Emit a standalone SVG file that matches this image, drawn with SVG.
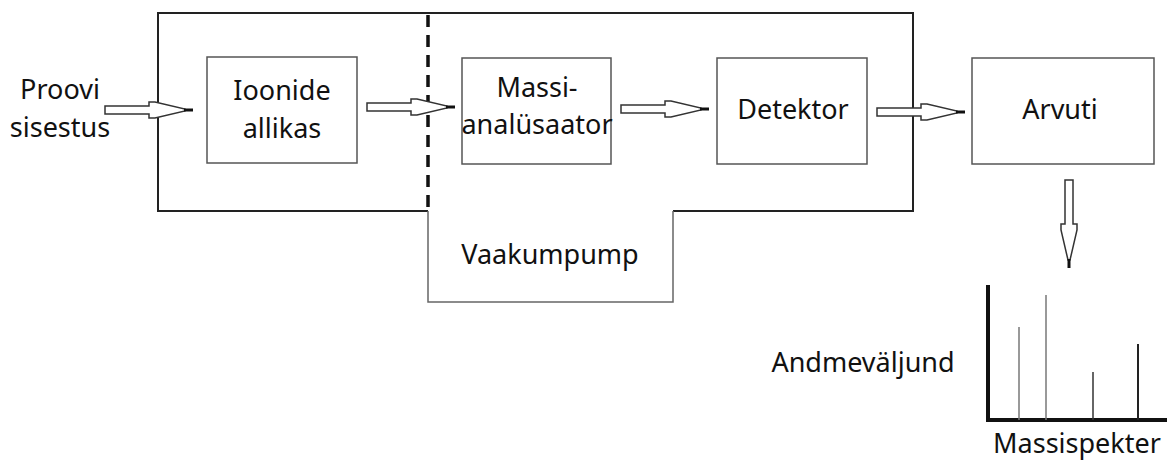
<svg xmlns="http://www.w3.org/2000/svg" width="1167" height="461" viewBox="0 0 1167 461">
  <style>
    .lbl { font-family: "Noto Sans", "Open Sans", sans-serif; font-size: 27px; fill: #111; text-anchor: middle; }
    .box { fill: none; stroke: #555; stroke-width: 1.5; }
    .frame { fill: none; stroke: #222; stroke-width: 2; }
    .pump { fill: none; stroke: #666; stroke-width: 1.5; }
    .arrow { fill: #fff; stroke: #333; stroke-width: 1.5; stroke-linejoin: miter; }
    .tip { stroke: #111; stroke-width: 3; }
  </style>
  <defs>
    <!-- hollow block arrow pointing right, length 88, origin at the tail centre -->
    <g id="blockArrow">
      <polygon class="arrow" points="0,-4 44,-4 44,-8 50,-8 80,-1 80,1 50,8 44,8 44,4 0,4"/>
      <line class="tip" x1="79" y1="0" x2="88" y2="0"/>
    </g>
  </defs>

  <rect width="1167" height="461" fill="#fff"/>

  <!-- vacuum chamber outline -->
  <g id="chamber">
    <polyline class="frame" points="428,211 158,211 158,13 913,13 913,211 673,211"/>
    <polyline class="pump" points="673,211 673,302 428,302 428,211"/>
    <line x1="428" y1="13" x2="428" y2="211" stroke="#111" stroke-width="3.5" stroke-dasharray="12,8" stroke-dashoffset="-2"/>
  </g>

  <g id="sample-input">
    <text class="lbl" x="60" y="99">Proovi</text>
    <text class="lbl" x="60" y="137">sisestus</text>
  </g>

  <g id="ion-source">
    <rect class="box" x="207" y="57" width="150" height="106"/>
    <text class="lbl" x="282" y="100">Ioonide</text>
    <text class="lbl" x="282" y="138">allikas</text>
  </g>

  <g id="mass-analyzer">
    <rect class="box" x="462" y="58" width="149" height="106"/>
    <text class="lbl" x="537" y="97">Massi-</text>
    <text class="lbl" x="537" y="134">analüsaator</text>
  </g>

  <g id="detector">
    <rect class="box" x="717" y="58" width="150" height="106"/>
    <text class="lbl" x="793" y="119">Detektor</text>
  </g>

  <g id="computer">
    <rect class="box" x="972" y="58" width="182" height="106"/>
    <text class="lbl" x="1060" y="119">Arvuti</text>
  </g>

  <g id="vacuum-pump">
    <text class="lbl" x="550" y="264">Vaakumpump</text>
  </g>

  <g id="mass-spectrum">
    <line x1="988" y1="285" x2="988" y2="422" stroke="#111" stroke-width="4"/>
    <line x1="986" y1="420" x2="1167" y2="420" stroke="#111" stroke-width="4"/>
    <line x1="1019" y1="327" x2="1019" y2="420" stroke="#777" stroke-width="1.5"/>
    <line x1="1046" y1="295" x2="1046" y2="420" stroke="#777" stroke-width="1.5"/>
    <line x1="1093" y1="372" x2="1093" y2="420" stroke="#333" stroke-width="1.5"/>
    <line x1="1138" y1="344" x2="1138" y2="420" stroke="#222" stroke-width="2"/>
    <text class="lbl" x="863" y="372">Andmeväljund</text>
    <text class="lbl" x="1077" y="453">Massispekter</text>
  </g>

  <!-- flow arrows -->
  <g id="connectors">
    <use href="#blockArrow" x="105" y="110"/>
    <use href="#blockArrow" x="367" y="107"/>
    <use href="#blockArrow" x="621" y="109"/>
    <use href="#blockArrow" x="877" y="112"/>
    <use href="#blockArrow" transform="translate(1069,180) rotate(90)"/>
  </g>
</svg>
